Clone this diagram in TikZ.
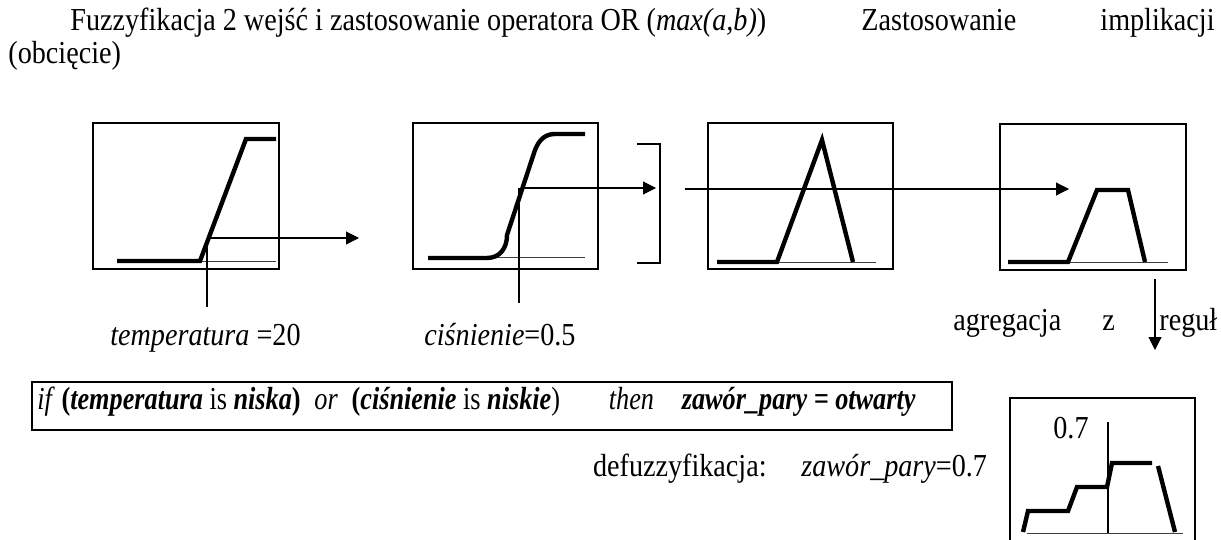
\documentclass[tikz,border=0pt]{standalone}
\usepackage{fontspec}
\setmainfont{Liberation Serif}[FakeStretch=0.88]
\newfontfamily\rulefont{Liberation Serif}[FakeStretch=0.82]
\usetikzlibrary{arrows.meta,calc}
\tikzset{
  fbox/.style={draw, line width=0.8pt, inner sep=0pt, outer sep=0pt},
  mf/.style={line width=2.2pt, line join=miter},
  thin/.style={line width=0.5pt, draw=black!75},
  conn/.style={line width=0.55pt, -{Triangle[length=6.5pt,width=6.5pt]}},
  guide/.style={line width=0.55pt},
  txt/.style={anchor=base west, inner sep=0pt, font=\fontsize{16}{18}\selectfont},
  txte/.style={anchor=base east, inner sep=0pt, font=\fontsize{16}{18}\selectfont},
  rtxt/.style={inner sep=0pt, font=\rulefont\fontsize{16}{18}\selectfont},
}
\begin{document}
\begin{tikzpicture}[x=0.5pt, y=-0.5pt]
\useasboundingbox (0,0) rectangle (1221,540);
% title
\node[txt] (t1) at (70,31) {Fuzzyfikacja 2 wejść i zastosowanie operatora OR (\textit{max(a,b)})};
\node[txt] (t2) at (861,31) {Zastosowanie};
\node[txte] (t3) at (1215,31) {implikacji};
\node[txt] (t4) at (8,64) {(obcięcie)};
% boxes
\node[fbox, minimum width=93pt, minimum height=73pt] (b1) at (186,196) {};
\node[fbox, minimum width=92.5pt, minimum height=73pt] (b2) at (505.5,196) {};
\node[fbox, minimum width=92.5pt, minimum height=73pt] (b3) at (800.5,196) {};
\node[fbox, minimum width=93pt, minimum height=73pt] (b4) at (1093,197) {};
\draw[line width=0.8pt] (1010,545) |- (1195,398) -- (1195,545);
% box 1 curve
\draw[thin] (200,261) -- (276,261);
\draw[mf] (117,261) -- (200,261) -- (246,139) -- (276,139);
% box 2 curve
\draw[thin] (487,257) -- (585,257);
\draw[mf] (428,258) -- (487,258) .. controls (500,258) and (507,248) .. (507,235)
   -- (535,150) .. controls (539,140) and (545,134) .. (555,134) -- (585,134);
% bracket
\draw[line width=1pt] (637,144) -- (660,144) -- (660,263) -- (637,263);
% box 3 triangle
\draw[thin] (777,262) -- (876,262);
\draw[mf, miter limit=20] (717,262) -- (777,262) -- (822,140) -- (853,262);
% box 4 trapezoid
\draw[thin] (1068,262) -- (1168,262);
\draw[mf] (1008,262) -- (1068,262) -- (1097,190) -- (1128,190) -- (1145,262);
% box 5
\draw[thin] (1027,533) -- (1183,533);
\draw[guide] (1108,422) -- (1108,533);
\draw[mf] (1023,532) -- (1028,511) -- (1068,511) -- (1077,487) -- (1107,487) -- (1112,463) -- (1152,463);
\draw[mf] (1158,466) -- (1175,532);
% coordinates for connectors
\coordinate (c1) at (207,238);
\coordinate (c1b) at (207,307);
\coordinate (c1e) at (359,238);
\coordinate (c2) at (519,188);
\coordinate (c2s) at (523,188);
\coordinate (c2b) at (519,303);
\coordinate (c2e) at (656,188);
\coordinate (c3s) at (685,189);
\coordinate (c3e) at (1069,189);
\coordinate (c4s) at (1155,279);
\coordinate (c4e) at (1155,350);
\draw[guide] (c1) -- (c1b);
\draw[conn] (c1) -- (c1e);
\draw[guide] (c2) -- (c2b);
\draw[conn] (c2s) -- (c2e);
\draw[conn] (c3s) -- (c3e);
\draw[conn] (c4s) -- (c4e);
% labels
\node[txte] (l1) at (301,345) {\textit{temperatura} =20};
\node[txt] (l2) at (424,345) {\textit{ciśnienie}=0.5};
\node[txt] (l3) at (953,330) {agregacja};
\node[txt] (l4) at (1102,330) {z};
\node[txt] (l5) at (1159,330) {reguł};
% rule
\node[fbox, minimum width=460pt, minimum height=24pt] (rule) at (492,406) {};
\node[rtxt, anchor=base west] (r1) at (37,409) {\textit{if} \textbf{(\textit{temperatura}} is \textbf{\textit{niska})}};
\node[rtxt, anchor=base east] (r5) at (916,409) {\textbf{\textit{zawór\_pary = otwarty}}};
\node[rtxt, anchor=base east] (r4) at ([xshift=-13.5pt]r5.base west) {\textit{then}};
\node[rtxt, anchor=base east] (r3) at ([xshift=-24pt]r4.base west) {\textbf{(\textit{ciśnienie}} is \textbf{\textit{niskie}})};
\node[rtxt, anchor=base] (r2) at ($(r1.base east)!0.5!(r3.base west)$) {\textit{or}};
% defuzz
\node[txte] (d1) at (767,476) {defuzzyfikacja:};
\node[txt] (d2) at (801,476) {\textit{zawór\_pary}=0.7};
\node[txt] (d3) at (1053,438) {0.7};
\end{tikzpicture}
\end{document}
